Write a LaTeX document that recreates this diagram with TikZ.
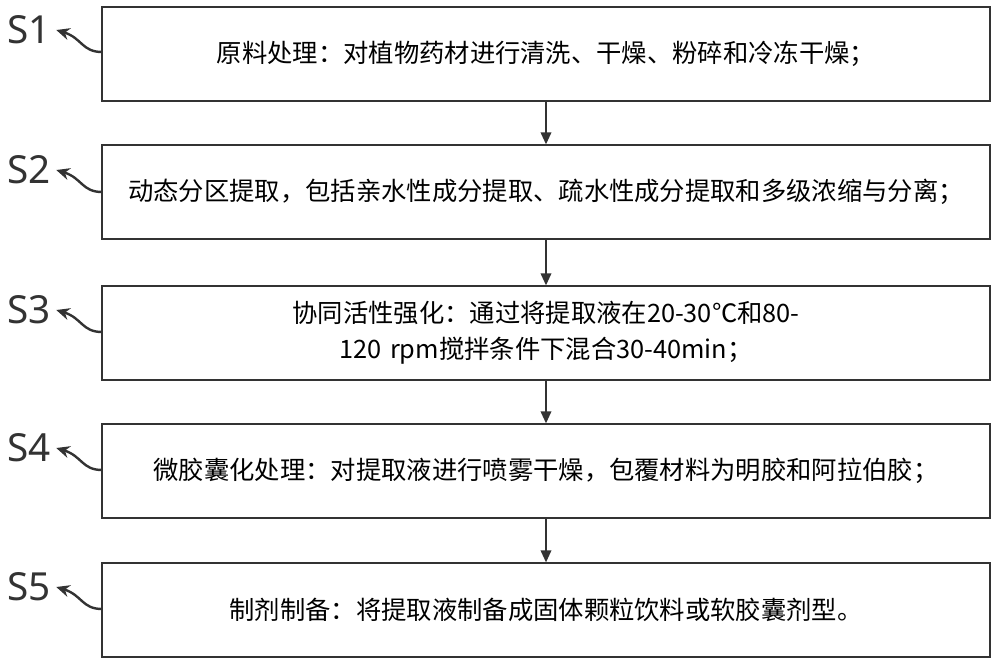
\documentclass[tikz,border=0pt]{standalone}
\usepackage{fontspec}
\setmainfont{Noto Sans}
\newfontfamily\cjk{Noto Sans CJK SC}
\usetikzlibrary{arrows.meta, positioning}

\begin{document}
\begin{tikzpicture}[
  x=0.75pt, y=-0.75pt,
  stepbox/.style={rectangle, draw=black!80, line width=1.5pt, minimum width=666pt, minimum height=70pt, text width=640pt, align=center, font=\cjk\fontsize{19}{27}\selectfont, inner sep=0pt},
  steplabel/.style={font=\fontsize{29}{30}\selectfont, text=black!80, inner sep=0pt},
  flow/.style={draw=black!80, line width=1.1pt, -{Triangle[length=9pt, width=8pt]}},
  hook/.style={draw=black!80, line width=1.8pt, -{Stealth[length=10pt, width=9pt]}}
]
\useasboundingbox (0,0) rectangle (1000,664);

\node[stepbox] (s1) at (546,54) {原料处理：对植物药材进行清洗、干燥、粉碎和冷冻干燥；};
\node[stepbox] (s2) at (546,192) {动态分区提取，包括亲水性成分提取、疏水性成分提取和多级浓缩与分离；};
\node[stepbox] (s3) at (546,333) {协同活性强化：通过将提取液在20-30℃和80-120 rpm搅拌条件下混合30-40min；};
\node[stepbox] (s4) at (546,471) {微胶囊化处理：对提取液进行喷雾干燥，包覆材料为明胶和阿拉伯胶；};
\node[stepbox] (s5) at (546,610) {制剂制备：将提取液制备成固体颗粒饮料或软胶囊剂型。};

% step labels
\foreach \i/\y in {1/30, 2/170, 3/310, 4/448, 5/587} {
  \node[steplabel] (l\i) at (29,\y) {S\i};
  \coordinate (c\i) at (102,\y+22);
  \draw[hook] (c\i) .. controls (82,\y+22) and (82,\y+8) .. ([xshift=4pt]l\i.east);
}

\draw[flow] (s1) -- (s2);
\draw[flow] (s2) -- (s3);
\draw[flow] (s3) -- (s4);
\draw[flow] (s4) -- (s5);
\end{tikzpicture}
\end{document}
